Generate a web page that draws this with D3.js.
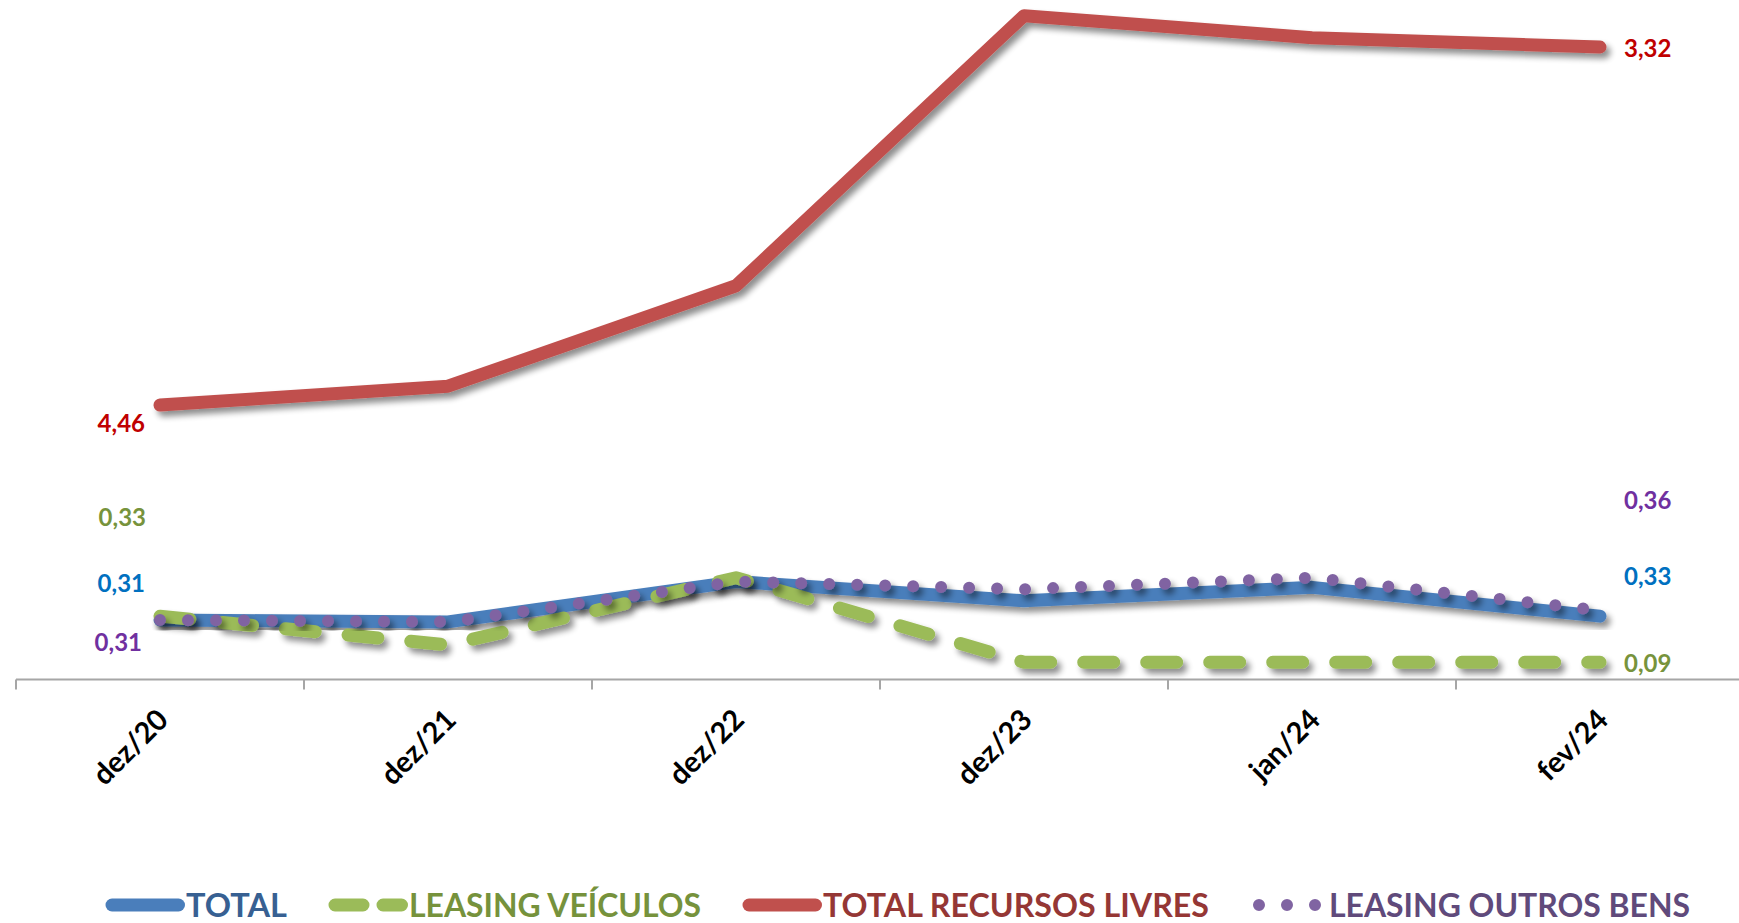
<!DOCTYPE html>
<html>
<head>
<meta charset="utf-8">
<script src="https://cdn.jsdelivr.net/npm/d3@7"></script>
<style>
  html, body { margin: 0; padding: 0; background: #fff; }
  svg { display: block; font-family: Lato, "Open Sans", sans-serif; }
</style>
</head>
<body>
<div class="canvas"></div>
<script>
// Data
const categories = ['dez/20', 'dez/21', 'dez/22', 'dez/23', 'jan/24', 'fev/24'];
const total = [0.31, 0.30, 0.51, 0.41, 0.48, 0.33];
const leasingVeiculos = [0.33, 0.18, 0.53, 0.09, 0.09, 0.09];
const recursosLivres = [4.46, 4.40, 4.08, 3.22, 3.29, 3.32];
const leasingOutros = [0.31, 0.30, 0.51, 0.47, 0.53, 0.36];
const seriesNames = ['TOTAL', 'LEASING VEÍCULOS', 'TOTAL RECURSOS LIVRES', 'LEASING OUTROS BENS'];

const dims = { width: 1739, height: 923 };
const plot = { left: 16, right: 1744, top: 0, bottom: 679.5 };

const svg = d3.select('.canvas')
  .append('svg')
  .attr('width', dims.width)
  .attr('height', dims.height);

// drop shadow like the Excel lines
const defs = svg.append('defs');
const f = defs.append('filter').attr('id', 'shadow')
  .attr('x', '-5%').attr('y', '-20%').attr('width', '110%').attr('height', '140%');
f.append('feGaussianBlur').attr('in', 'SourceAlpha').attr('stdDeviation', 3).attr('result', 'b');
f.append('feOffset').attr('in', 'b').attr('dx', 4).attr('dy', 5).attr('result', 'o');
f.append('feComponentTransfer').attr('in', 'o').attr('result', 's')
  .append('feFuncA').attr('type', 'linear').attr('slope', 0.45);
const m = f.append('feMerge');
m.append('feMergeNode').attr('in', 's');
m.append('feMergeNode').attr('in', 'SourceGraphic');

// Scales
const x = d3.scaleBand().domain(categories).range([plot.left, plot.right]);
const xc = c => x(c) + x.bandwidth() / 2;
const y = d3.scaleLinear().domain([0, 3.54]).range([plot.bottom, plot.top]);
// secondary axis (reversed) for TOTAL RECURSOS LIVRES
const y2 = d3.scaleLinear().domain([3.17, 5.334]).range([plot.top, plot.bottom]);

const fmt = v => d3.format('.2f')(v).replace('.', ',');

// X axis
const axis = svg.append('g');
axis.append('line')
  .attr('x1', plot.left).attr('x2', plot.right)
  .attr('y1', plot.bottom).attr('y2', plot.bottom)
  .attr('stroke', '#a6a6a6').attr('stroke-width', 2);
axis.selectAll('.tick')
  .data(categories)
  .enter().append('line')
  .attr('x1', d => x(d)).attr('x2', d => x(d))
  .attr('y1', plot.bottom).attr('y2', plot.bottom + 10)
  .attr('stroke', '#a6a6a6').attr('stroke-width', 2);
axis.selectAll('.xlabel')
  .data(categories)
  .enter().append('text')
  .attr('transform', d => `translate(${xc(d) + 10}, ${plot.bottom + 42}) rotate(-45)`)
  .attr('text-anchor', 'end')
  .attr('font-size', 29)
  .attr('font-weight', 'bold')
  .attr('fill', '#000')
  .text(d => d);

// Series config
const series = [
  { name: seriesNames[0], values: total, scale: y, color: '#4A7EBB', label: '#0070C0', legend: '#376092', dash: null },
  { name: seriesNames[1], values: leasingVeiculos, scale: y, color: '#9BBB59', label: '#77933C', legend: '#76923C', dash: '30 33' },
  { name: seriesNames[2], values: recursosLivres, scale: y2, color: '#C0504D', label: '#C00000', legend: '#953735', dash: null },
  { name: seriesNames[3], values: leasingOutros, scale: y, color: '#8064A2', label: '#7030A0', legend: '#604A7B', dash: '0 28' }
];

const line = s => d3.line()
  .x((d, i) => xc(categories[i]))
  .y(d => s.scale(d));

// draw order: total, recursos, veiculos, outros
const drawOrder = [0, 2, 1, 3];
const lines = svg.append('g');
drawOrder.forEach(k => {
  const s = series[k];
  lines.append('path')
    .datum(s.values)
    .attr('d', line(s))
    .attr('fill', 'none')
    .attr('stroke', s.color)
    .attr('stroke-width', k === 3 ? 12 : 13)
    .attr('stroke-linecap', 'round')
    .attr('stroke-linejoin', 'round')
    .attr('stroke-dasharray', s.dash)
    .attr('filter', 'url(#shadow)');
});

// Data labels (first and last point), offsets as placed in the source chart
const labelOffsets = [
  { first: [-15, -37], last: [24, -41] },
  { first: [-14, -100], last: [24, 0] },
  { first: [-15, 17], last: [24, 0] },
  { first: [-18, 22], last: [24, -111] }
];
const labels = svg.append('g')
  .attr('font-size', 24)
  .attr('font-weight', 'bold');
series.forEach((s, k) => {
  const n = s.values.length - 1;
  const o = labelOffsets[k];
  labels.append('text')
    .attr('x', xc(categories[0]) + o.first[0])
    .attr('y', s.scale(s.values[0]) + o.first[1])
    .attr('text-anchor', 'end')
    .attr('dominant-baseline', 'central')
    .attr('fill', s.label)
    .text(fmt(s.values[0]));
  labels.append('text')
    .attr('x', xc(categories[n]) + o.last[0])
    .attr('y', s.scale(s.values[n]) + o.last[1])
    .attr('text-anchor', 'start')
    .attr('dominant-baseline', 'central')
    .attr('fill', s.label)
    .text(fmt(s.values[n]));
});

// Legend
const legendWidths = [101, 292, 386, 361];
const legend = svg.append('g').attr('transform', 'translate(0, 905)');
let lx = 106;
series.forEach((s, k) => {
  const sampleW = k === 3 ? 64 : 72;
  const g = legend.append('g').attr('transform', `translate(${lx}, 0)`);
  g.append('line')
    .attr('x1', k === 3 ? 8 : 6).attr('x2', sampleW + 0.5)
    .attr('y1', 0).attr('y2', 0)
    .attr('stroke', s.color)
    .attr('stroke-width', k === 3 ? 12 : 13)
    .attr('stroke-linecap', 'round')
    .attr('stroke-dasharray', k === 1 ? '28 20' : s.dash);
  g.append('text')
    .attr('x', sampleW + (k === 3 ? 14 : 8))
    .attr('y', 12)
    .attr('font-size', 33)
    .attr('font-weight', 'bold')
    .attr('fill', s.legend)
    .attr('textLength', legendWidths[k])
    .attr('lengthAdjust', 'spacingAndGlyphs')
    .text(s.name);
  lx += sampleW + 8 + legendWidths[k] + 42;
});
</script>
</body>
</html>
